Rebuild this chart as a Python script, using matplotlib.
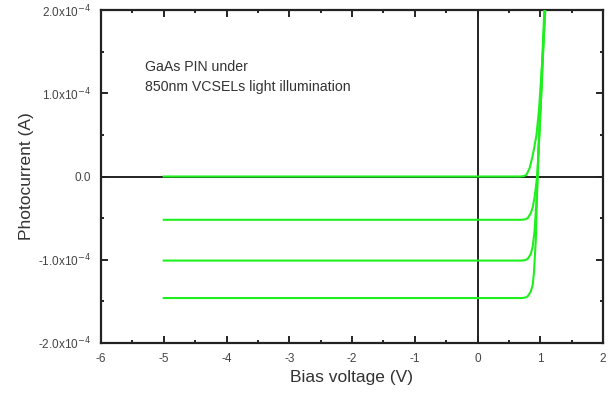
import matplotlib
matplotlib.use("Agg")
import matplotlib.pyplot as plt
from matplotlib.ticker import MultipleLocator

plt.rcParams['font.family'] = ['Liberation Sans', 'DejaVu Sans']

# Data (current in units of 1e-4 A)
v_dark = [-5, 0.68, 0.74, 0.78, 0.83, 0.87, 0.90, 0.94, 0.98, 1.02, 1.09]
i_dark = [0.0, 0.0, 0.005, 0.02, 0.10, 0.22, 0.33, 0.50, 0.80, 1.25, 2.10]

v_c1 = [-5, 0.70, 0.76, 0.80, 0.85, 0.88, 0.91, 0.935, 0.955, 0.98, 1.02, 1.08]
i_c1 = [-0.52, -0.52, -0.515, -0.50, -0.44, -0.37, -0.25, -0.10, 0.05, 0.45, 1.05, 2.10]

v_c2 = [-5, 0.70, 0.76, 0.80, 0.85, 0.88, 0.91, 0.935, 0.955, 0.98, 1.02, 1.08]
i_c2 = [-1.01, -1.01, -1.005, -0.99, -0.93, -0.84, -0.65, -0.35, -0.05, 0.40, 1.05, 2.10]

v_c3 = [-5, 0.70, 0.76, 0.80, 0.85, 0.88, 0.90, 0.93, 0.95, 0.97, 1.01, 1.07]
i_c3 = [-1.46, -1.46, -1.455, -1.44, -1.38, -1.30, -1.15, -0.75, -0.20, 0.30, 1.00, 2.10]

curves = [(v_dark, i_dark), (v_c1, i_c1), (v_c2, i_c2), (v_c3, i_c3)]

y_ticks = [-2e-4, -1e-4, 0, 1e-4, 2e-4]
y_labels = [r'-2.0x10$^{-4}$', r'-1.0x10$^{-4}$', '0.0', r'1.0x10$^{-4}$', r'2.0x10$^{-4}$']
x_ticks = [-6, -5, -4, -3, -2, -1, 0, 1, 2]

fig = plt.figure(figsize=(6.12, 3.96), dpi=100)
ax = fig.add_axes([101/612, 1 - 343/396, (603-101)/612, (343-10)/396])

green = '#1ef01e'
for v, i in curves:
    ax.plot(v, [x * 1e-4 for x in i], color=green, lw=1.5, clip_on=True, zorder=3)

ax.axvline(0, color='#222222', lw=1.4, zorder=2)
ax.axhline(0, color='#222222', lw=1.4, zorder=2)

ax.set_xlim(-6, 2)
ax.set_ylim(-2e-4, 2e-4)
ax.set_xticks(x_ticks)
ax.set_xticklabels([str(t) for t in x_ticks])
ax.set_yticks(y_ticks)
ax.set_yticklabels(y_labels)
ax.xaxis.set_minor_locator(MultipleLocator(0.5))
ax.yaxis.set_minor_locator(MultipleLocator(0.5e-4))
ax.tick_params(which='major', direction='in', length=5, width=1.2, top=True, right=True,
               labelsize=8.5, labelcolor='#444444', pad=7)
ax.tick_params(which='minor', direction='in', length=2.5, width=1.2, top=True, right=True)
for s in ax.spines.values():
    s.set_linewidth(1.6)
    s.set_color('#222222')

ax.set_xlabel('Bias voltage (V)', fontsize=12.5, color='#333333', labelpad=4)
ax.set_ylabel('Photocurrent (A)', fontsize=12.5, color='#333333', labelpad=3)

ax.text(-5.3, 1.315e-4, 'GaAs PIN under', fontsize=10.2, color='#333333', va='center')
ax.text(-5.3, 1.075e-4, '850nm VCSELs light illumination', fontsize=10.2, color='#333333', va='center')

fig.savefig('out.png', dpi=100)
